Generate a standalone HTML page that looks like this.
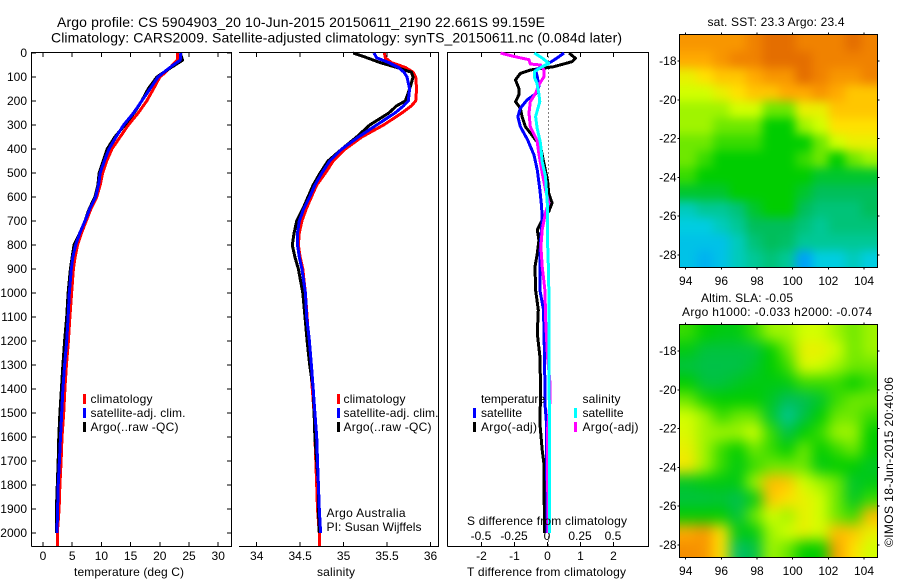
<!DOCTYPE html>
<html>
<head>
<meta charset="utf-8">
<title>Argo profile</title>
<style>
html,body{margin:0;padding:0;background:#fff;}
svg{display:block;}
text{font-family:"Liberation Sans",sans-serif;font-size:12px;fill:#000;}
.title{font-size:14px;}
.axis{stroke:#000;stroke-width:1;shape-rendering:crispEdges;fill:none;}
.series{fill:none;stroke-width:3;stroke-linejoin:round;shape-rendering:crispEdges;}
</style>
</head>
<body>
<svg id="chart" width="900" height="580" viewBox="0 0 900 580" xmlns="http://www.w3.org/2000/svg">
  <defs>
    <clipPath id="clip-sst"><rect x="680" y="35" width="198" height="232"/></clipPath>
    <clipPath id="clip-sla"><rect x="680" y="325" width="198" height="232"/></clipPath>
    <filter id="soft-sst" filterUnits="userSpaceOnUse" x="640" y="0" width="260" height="300" color-interpolation-filters="sRGB"><feGaussianBlur stdDeviation="5"/></filter>
    <filter id="soft-sla" filterUnits="userSpaceOnUse" x="640" y="290" width="260" height="290" color-interpolation-filters="sRGB"><feGaussianBlur stdDeviation="7"/></filter>
  </defs>
  <text class="title" x="57" y="27" textLength="488">Argo profile: CS 5904903_20 10-Jun-2015 20150611_2190 22.661S 99.159E</text>
  <text class="title" x="51" y="42.500" textLength="571">Climatology: CARS2009. Satellite-adjusted climatology: synTS_20150611.nc (0.084d later)</text>

  <g id="panel-temp"></g>
  <g id="panel-sal"></g>
  <g id="panel-diff"></g>
  <g id="map-sst"></g>
  <g id="map-sla"></g>

  <text x="74" y="576" textLength="110">temperature (deg C)</text>
  <text x="317" y="576" textLength="38">salinity</text>
  <text x="467" y="576" textLength="159">T difference from climatology</text>
  <text x="467" y="525" textLength="160">S difference from climatology</text>

  <g>
    <rect x="83" y="394" width="3" height="10" fill="#f00"/>
    <rect x="83" y="408" width="3" height="10" fill="#00f"/>
    <rect x="83" y="422" width="3" height="10" fill="#000"/>
    <text x="90.500" y="403" textLength="62">climatology</text>
    <text x="90.500" y="417" textLength="95">satellite-adj. clim.</text>
    <text x="90.500" y="431" textLength="88">Argo(..raw -QC)</text>
  </g>
  <g>
    <rect x="337" y="394" width="3" height="10" fill="#f00"/>
    <rect x="337" y="408" width="3" height="10" fill="#00f"/>
    <rect x="337" y="422" width="3" height="10" fill="#000"/>
    <text x="343.500" y="403" textLength="62">climatology</text>
    <text x="343.500" y="417" textLength="95">satellite-adj. clim.</text>
    <text x="343.500" y="431" textLength="88">Argo(..raw -QC)</text>
  </g>
  <text x="326.500" y="517" textLength="79">Argo Australia</text>
  <text x="326.500" y="531" textLength="95">PI: Susan Wijffels</text>
  <g>
    <text x="481" y="403" textLength="64">temperature</text>
    <text x="582.500" y="403" textLength="38">salinity</text>
    <rect x="473" y="408" width="3" height="10" fill="#00f"/>
    <rect x="473" y="422" width="3" height="10" fill="#000"/>
    <rect x="574" y="408" width="3" height="10" fill="#0ff"/>
    <rect x="574" y="422" width="3" height="10" fill="#f0f"/>
    <text x="481" y="417" textLength="41">satellite</text>
    <text x="481" y="431" textLength="56">Argo(-adj)</text>
    <text x="582.500" y="417" textLength="41">satellite</text>
    <text x="582.500" y="431" textLength="56">Argo(-adj)</text>
  </g>

  <text x="707.500" y="26" textLength="137">sat. SST: 23.3 Argo: 23.4</text>
  <text x="701" y="302" textLength="92">Altim. SLA: -0.05</text>
  <text x="682" y="316" textLength="190">Argo h1000: -0.033 h2000: -0.074</text>
  <text transform="translate(893,547) rotate(-90)" x="0" y="0" textLength="170">©IMOS 18-Jun-2015 20:40:06</text>
</svg>
<script>
const depthTicks = [0,100,200,300,400,500,600,700,800,900,1000,1100,1200,1300,1400,1500,1600,1700,1800,1900,2000];
const tempTicks = [0,5,10,15,20,25,30];
const salTicks = [34,34.5,35,35.5,36];
const salTickLabels = ['34','34.5','35','35.5','36'];
const tDiffTicks = [-2,-1,0,1,2];
const sDiffTicks = [-0.5,-0.25,0,0.25,0.5];
const sDiffTickLabels = ['-0.5','-0.25','0','0.25','0.5'];
const lonTicks = [94,96,98,100,102,104];
const latTicks = [-18,-20,-22,-24,-26,-28];

const tempDepths = [0,30,50,80,100,150,200,250,300,350,400,450,500,550,600,650,700,750,800,850,900,1000,1100,1200,1300,1400,1500,1600,1700,1800,1900,2000];
const tempClim = [23,23,22.2,21,20,18.9,17.75,16.3,14.6,13.2,11.8,10.9,10.2,9.8,9.2,8.2,7.4,6.6,5.9,5.5,5.2,4.9,4.6,4.35,4,3.75,3.55,3.25,3.1,2.9,2.75,2.45];
const tempSat = [23.6,23.5,22.3,20.7,19.7,18.3,16.9,15.5,13.8,12.5,11.3,10.5,9.8,9.5,9,8,7.2,6.3,5.6,5.1,4.85,4.5,4.3,4.05,3.7,3.4,3.2,3,2.8,2.6,2.5,2.4];
const tempArgo = [23.5,23.9,22.6,20.7,19.5,18,16.9,15.6,14,12.3,11,10.3,9.6,9.4,8.9,7.9,7.2,6.3,5.3,5,4.7,4.3,4.05,3.7,3.4,3.15,2.9,2.7,2.6,2.45,2.3,2.3];

const salDepths = [0,20,40,60,80,100,150,200,220,250,300,350,400,450,500,550,600,650,700,750,800,850,900,1000,1100,1200,1300,1400,1500,1600,1700,1800,1900,2000];
const salClim = [35.47,35.48,35.55,35.71,35.8,35.83,35.84,35.83,35.78,35.67,35.46,35.21,35.02,34.88,34.79,34.69,34.63,34.57,34.52,34.49,34.48,34.5,34.53,34.56,34.58,34.6,34.62,34.64,34.66,34.67,34.68,34.69,34.7,34.72];
const salSat = [35.35,35.38,35.52,35.63,35.695,35.73,35.76,35.745,35.69,35.59,35.38,35.17,34.98,34.84,34.75,34.67,34.61,34.54,34.49,34.47,34.47,34.49,34.52,34.56,34.575,34.606,34.63,34.65,34.67,34.69,34.7,34.71,34.72,34.735];
const salArgo = [35.11,35.27,35.42,35.61,35.78,35.8,35.76,35.71,35.61,35.52,35.3,35.15,34.98,34.82,34.73,34.65,34.59,34.53,34.46,34.43,34.41,34.44,34.48,34.53,34.556,34.58,34.61,34.65,34.66,34.67,34.69,34.71,34.71,34.72];

const tSatDepths = [0,20,43,71,100,140,170,196,230,265,307,363,425,488,571,640,695,780,850,988,1070,1265,1474,1543,1682,1960,2000];
const tSatDiff = [0.5,0.3,0.04,-0.36,-0.31,-0.26,-0.36,-0.62,-0.82,-0.9,-0.82,-0.6,-0.41,-0.31,-0.23,-0.18,-0.16,-0.21,-0.23,-0.23,-0.12,-0.09,-0.07,-0.03,-0.03,-0.01,-0.01];
const tArgoDepths = [0,22,36,57,71,85,112,147,175,203,230,265,307,342,390,425,530,585,625,660,695,737,780,835,890,988,1071,1168,1265,1404,1543,1654,1710,2000];
const tArgoDiff = [0.65,0.85,0.75,0.19,-0.52,-0.82,-0.97,-0.87,-0.87,-0.97,-0.82,-0.77,-0.67,-0.47,-0.21,-0.16,0,0.04,0.14,0.04,-0.16,-0.31,-0.26,-0.31,-0.38,-0.36,-0.28,-0.31,-0.23,-0.21,-0.23,-0.16,-0.11,-0.09];
const sSatDepths = [0,21,43,57,78,100,126,168,203,265,314,376,453,515,640,779,918,988,1265,1543,2000];
const sSatDiff = [-0.1,-0.04,0.01,-0.04,-0.1,-0.1,-0.08,-0.066,-0.058,-0.09,-0.078,-0.053,-0.04,-0.015,0,0,0.008,0.01,0.01,0.015,0.015];
const sArgoDepths = [0,14,28,46,50,71,100,133,168,203,250,307,362,417,500,570,625,665,737,806,890,988,1127,1265,1380,1445,1570,1876,2000];
const sArgoDiff = [-0.356,-0.255,-0.14,-0.13,-0.053,-0.028,-0.028,-0.066,-0.09,-0.13,-0.14,-0.13,-0.08,-0.066,-0.04,-0.015,0.01,-0.015,-0.04,-0.05,-0.04,-0.02,-0.013,0,0.02,0.02,0,0.002,0.002];

const sstRows = [
[9.5,9.5,9.5,9.5,10,10.5,10.5,10,10,10,10.5,10],
[9,9,9.5,10,10,10.5,10.5,10.5,10,10,10,10],
[7.5,8,8.5,8.5,9,9.5,9.5,10.5,10,9.5,9.5,10],
[7,7,7.5,8,8.5,8.5,9,9,9.5,9,8.5,8.5],
[6.5,6.5,6.5,7,7,6,6,7.5,7.5,8.5,8.5,8.5],
[6.5,6.5,6,6,6,5,5,6.5,7,8,8,8],
[6,6,5.5,5.5,5.5,5,5,5,6,7,7.5,7.5],
[6,5.5,5,5,5,5,5,5.5,6,5,6,6.5],
[5.5,5,5,5,5,5,5,5,4.5,4.5,4.5,4.5],
[4.5,4.5,4.5,5,5,5,5,4.5,4,4,4,4],
[2.5,3,3,3.5,4.5,5,5,4,3.5,3.5,3.5,4],
[2,2,2.5,3,4,4,4,3.5,3,3.5,3.5,3.5],
[1.8,1.8,1.8,2.5,3.5,4,3.8,3,3,3,3,3],
[1.8,1.5,1.8,2.5,3,3.5,3,1.2,2,2,2.5,2]
];
const slaRows = [
[5.5,5,4.8,4.8,5.5,6.5,6.5,7,7,6.5,6,6.5],
[4.8,4.3,4.3,4.3,4.3,5,6,7.5,7.5,7,6,6.5],
[4.3,4.2,4.2,4.2,4.5,5,5.5,7.2,7,6.5,6,6],
[5,4.3,4.3,4.6,4.8,4.8,4.8,5.5,5.5,5.5,5,5.5],
[6,5.2,5,5,5,4.6,4,4.1,4.5,5.5,6,6],
[7,6.5,5.5,6,6,4.5,3,4.2,5,6,6,5.5],
[7.2,6.5,6.5,6.5,7,5.5,4.2,5,5.5,6.5,6.5,5],
[7.5,6.5,5.5,5,6,5.5,5,6,5,5.5,6,5],
[7.8,6.5,5.5,4.8,5.5,6,6,6,4.8,5,5,4.6],
[4.6,4.8,4.8,4.8,6.5,8.7,8.5,7,6.5,6,4.5,4.8],
[4.3,4.3,4.4,4.1,4.8,8.5,8,7.5,7,6,4.6,5.5],
[5,5,5,4.3,6,7,6.5,7.5,7,6,5.5,8.7],
[9,9.5,8,4.8,4.8,6.5,7,7.5,7,8.7,8.5,7.5],
[9.7,9.5,8,3.8,4.2,6.5,6,5,5,9.2,8,7]
];

const SVGNS = 'http://www.w3.org/2000/svg';
const depthTop = 53, depthScale = 0.24, plotTop = 52.5, plotBottom = 546.5;
const yDepth = d => depthTop + d * depthScale;
const xTemp = t => 43 + t * 5.84;
const xSal = s => 256.7 + (s - 34) * 86.9;
const xTDiff = t => 547.5 + t * 33;
const xSDiff = s => 547.5 + s * 132;
const xLon = l => 685.7 + (l - 94) * 17.83;
const ySstLat = l => 61 + (-18 - l) * 19.4;
const ySlaLat = l => 351 + (-18 - l) * 19.4;

function mk(parent, tag, attrs, text) {
  const el = document.createElementNS(SVGNS, tag);
  for (const k in attrs) el.setAttribute(k, attrs[k]);
  if (text !== undefined) el.textContent = text;
  parent.appendChild(el);
  return el;
}
function axisPath(parent, d) {
  const el = mk(parent, 'path', {d: d, class: 'axis'});
  
  
  return el;
}
function tick(parent, x1, y1, x2, y2) {
  const el = mk(parent, 'line', {x1: x1, y1: y1, x2: x2, y2: y2, class: 'axis'});
  
  
}
function tickLabel(parent, x, y, anchor, str) {
  const el = mk(parent, 'text', {x: x, y: y, 'text-anchor': anchor}, str);
  
  
}
function profile(parent, name, color, depths, values, xFn, extraDepth) {
  const pts = values.map((v, i) => xFn(v).toFixed(1) + ',' + yDepth(depths[i]).toFixed(1));
  if (extraDepth !== undefined) pts.push(xFn(values[values.length - 1]).toFixed(1) + ',' + yDepth(extraDepth).toFixed(1));
  const el = mk(parent, 'polyline', {points: pts.join(' '), class: 'series', stroke: color});
  
  
}

const pTemp = document.getElementById('panel-temp');
axisPath(pTemp, 'M31.5 546.500V52.500H231.500V546.500H31.500');
depthTicks.forEach(d => {
  tick(pTemp, 31.5, yDepth(d), 36, yDepth(d));
  tick(pTemp, 227, yDepth(d), 231.5, yDepth(d));
  tickLabel(pTemp, 27, yDepth(d) + 4, 'end', String(d));
});
tempTicks.forEach(t => {
  tick(pTemp, xTemp(t), 52.5, xTemp(t), 57);
  tick(pTemp, xTemp(t), 542, xTemp(t), 546.5);
  tickLabel(pTemp, xTemp(t), 560, 'middle', String(t));
});
profile(pTemp, 'temperature-climatology-line', '#f00', tempDepths, tempClim, xTemp, 2054);
profile(pTemp, 'temperature-argo-line', '#000', tempDepths, tempArgo, xTemp);
profile(pTemp, 'temperature-satellite-line', '#00f', tempDepths, tempSat, xTemp);

const pSal = document.getElementById('panel-sal');
axisPath(pSal, 'M239 52.500H438.500V546.500H239');
salTicks.forEach((s, i) => {
  tick(pSal, xSal(s), 52.5, xSal(s), 57);
  tick(pSal, xSal(s), 542, xSal(s), 546.5);
  tickLabel(pSal, xSal(s), 560, 'middle', salTickLabels[i]);
});
profile(pSal, 'salinity-climatology-line', '#f00', salDepths, salClim, xSal, 2054);
profile(pSal, 'salinity-argo-line', '#000', salDepths, salArgo, xSal);
profile(pSal, 'salinity-satellite-line', '#00f', salDepths, salSat, xSal);

const pDiff = document.getElementById('panel-diff');
axisPath(pDiff, 'M447.500 546.500V52.500H648.500V546.500H447.500');
tDiffTicks.forEach(t => {
  tick(pDiff, xTDiff(t), 52.5, xTDiff(t), 57);
  tick(pDiff, xTDiff(t), 542, xTDiff(t), 546.5);
  tickLabel(pDiff, xTDiff(t), 560, 'middle', String(t));
});
sDiffTicks.forEach((s, i) => {
  tickLabel(pDiff, xSDiff(s) - 0.5, 540, 'middle', sDiffTickLabels[i]);
});
const zeroLine = mk(pDiff, 'line', {x1: xTDiff(0) + 1, y1: 52.5, x2: xTDiff(0) + 1, y2: 546.5, stroke: '#000', 'stroke-width': 1, 'stroke-dasharray': '1 3', 'shape-rendering': 'crispEdges'});


profile(pDiff, 't-argo-difference-line', '#000', tArgoDepths, tArgoDiff, xTDiff);
profile(pDiff, 't-satellite-difference-line', '#00f', tSatDepths, tSatDiff, xTDiff);
profile(pDiff, 's-argo-difference-line', '#f0f', sArgoDepths, sArgoDiff, xSDiff);
profile(pDiff, 's-satellite-difference-line', '#0ff', sSatDepths, sSatDiff, xSDiff);

const colorStops = [[1,0,150,255],[2,0,205,225],[3,0,200,150],[4,0,190,90],[5,0,205,0],[6,110,232,0],[7,210,255,0],[8,255,225,0],[9,255,170,0],[10,240,130,0],[11,215,90,0]];
function levelColor(v) {
  let a = colorStops[0], b = colorStops[colorStops.length - 1];
  if (v <= a[0]) b = a;
  else if (v >= b[0]) a = b;
  else for (let i = 0; i < colorStops.length - 1; i++) {
    if (v >= colorStops[i][0] && v <= colorStops[i + 1][0]) { a = colorStops[i]; b = colorStops[i + 1]; break; }
  }
  const f = b[0] === a[0] ? 0 : (v - a[0]) / (b[0] - a[0]);
  return 'rgb(' + [1, 2, 3].map(i => Math.round(a[i] + (b[i] - a[i]) * f)).join(',') + ')';
}
function drawMap(id, rows, top, clipId, filterId, yLat, xTickBaseline) {
  const root = document.getElementById(id);
  const left = 680, w = 198, h = 232;
  const clip = mk(root, 'g', {'clip-path': 'url(#' + clipId + ')'});
  
  
  const soft = mk(clip, 'g', {filter: 'url(#' + filterId + ')'});
  
  
  const nr = rows.length, nc = rows[0].length, cw = w / nc, ch = h / nr, pad = 24;
  rows.forEach((row, r) => row.forEach((v, c) => {
    const x0 = left + c * cw - (c === 0 ? pad : 0);
    const x1 = left + (c + 1) * cw + (c === nc - 1 ? pad : 0);
    const y0 = top + r * ch - (r === 0 ? pad : 0);
    const y1 = top + (r + 1) * ch + (r === nr - 1 ? pad : 0);
    const cell = mk(soft, 'rect', {x: x0, y: y0, width: x1 - x0 + 0.5, height: y1 - y0 + 0.5, fill: levelColor(v)});
    
    
  }));
  axisPath(root, 'M679.500 ' + (top - 0.5) + 'H877.500V' + (top + h + 0.5) + 'H679.500Z');
  lonTicks.forEach(l => {
    tick(root, xLon(l), top - 2.5, xLon(l), top - 0.5);
    tick(root, xLon(l), top + h + 0.5, xLon(l), top + h + 2.5);
    tickLabel(root, xLon(l), xTickBaseline, 'middle', String(l));
  });
  latTicks.forEach(l => {
    tick(root, 677.5, yLat(l), 679.5, yLat(l));
    tick(root, 877.5, yLat(l), 879.5, yLat(l));
    tickLabel(root, 676.5, yLat(l) + 4, 'end', String(l));
  });
}
drawMap('map-sst', sstRows, 35, 'clip-sst', 'soft-sst', ySstLat, 285);
drawMap('map-sla', slaRows, 325, 'clip-sla', 'soft-sla', ySlaLat, 575);
</script>
</body>
</html>
